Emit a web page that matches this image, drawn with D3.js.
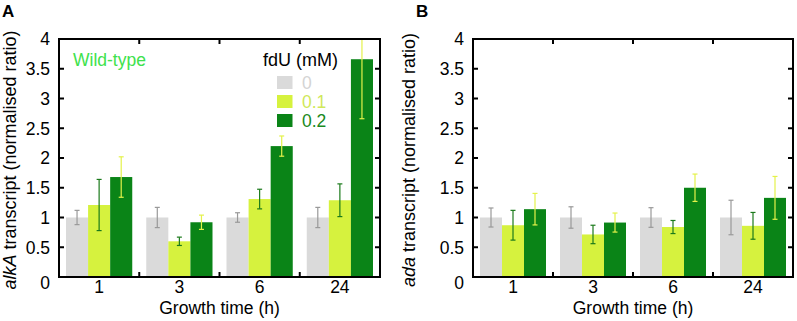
<!DOCTYPE html>
<html>
<head>
<meta charset="utf-8">
<script src="https://cdn.jsdelivr.net/npm/d3@7"></script>
<style>
  body { margin: 0; background: #fff; }
  svg { display: block; font-family: "Liberation Sans", Arial, sans-serif; }
</style>
</head>
<body>
<div id="plot"></div>
<script>
// growth time groups and fdU doses
const times = ['1', '3', '6', '24'];
const doses = ['0', '0.1', '0.2'];
const yTicks = [0, 0.5, 1, 1.5, 2, 2.5, 3, 3.5, 4];

// panel A: alkA
const alkA0 = [1.00, 1.00, 1.00, 1.00];
const alkA01 = [1.21, 0.60, 1.31, 1.29];
const alkA02 = [1.68, 0.92, 2.20, 3.66];
const alkA0Err = [0.12, 0.17, 0.08, 0.17];
const alkA01Err = [0.43, 0.07, 0.165, 0.275];
const alkA02Err = [0.34, 0.12, 0.17, 1.00];

// panel B: ada
const ada0 = [1.00, 1.00, 1.00, 1.00];
const ada01 = [0.87, 0.715, 0.84, 0.86];
const ada02 = [1.14, 0.915, 1.50, 1.33];
const ada0Err = [0.16, 0.18, 0.165, 0.29];
const ada01Err = [0.25, 0.155, 0.11, 0.225];
const ada02Err = [0.265, 0.16, 0.23, 0.36];

const barColor = {'0': '#dadada', '0.1': '#d6f23e', '0.2': '#0a8417'};
const errColor = {'0': '#999999', '0.1': '#1b7a1b', '0.2': '#e4f24a'};
const legendText = {'0': '#d4d4d4', '0.1': '#d0e85a', '0.2': '#1a8a22'};

const W = 797, H = 321;
const svg = d3.select('#plot').append('svg').attr('width', W).attr('height', H);

function drawPanel(p) {
    const g = svg.append('g');
    const y = d3.scaleLinear().domain([0, 4]).range([p.bottom, p.top]);
    const x = d3.scaleBand().domain(times).range([p.left, p.right]).padding(0);
    const xi = d3.scaleBand().domain(doses).range([7, x.bandwidth() - 7]).padding(0);

    const clipId = 'clip' + p.id;
    g.append('clipPath').attr('id', clipId)
        .append('rect')
        .attr('x', p.left).attr('y', p.top)
        .attr('width', p.right - p.left).attr('height', p.bottom - p.top);

    const rows = [];
    times.forEach((t, i) => {
        doses.forEach((d, j) => {
            rows.push({time: t, dose: d, v: p.means[j][i], e: p.errs[j][i]});
        });
    });

    const plot = g.append('g').attr('clip-path', `url(#${clipId})`);

    plot.selectAll('.bar')
        .data(rows)
        .enter()
        .append('rect')
        .attr('x', d => x(d.time) + xi(d.dose))
        .attr('width', xi.bandwidth())
        .attr('y', d => y(d.v))
        .attr('height', d => y(0) - y(d.v))
        .attr('fill', d => barColor[d.dose]);

    const eb = plot.selectAll('.err')
        .data(rows)
        .enter()
        .append('g')
        .attr('stroke', d => errColor[d.dose])
        .attr('stroke-width', 1.2);
    const cx = d => x(d.time) + xi(d.dose) + xi.bandwidth() / 2;
    eb.append('line')
        .attr('x1', cx).attr('x2', cx)
        .attr('y1', d => y(d.v - d.e)).attr('y2', d => y(d.v + d.e));
    eb.append('line')
        .attr('x1', d => cx(d) - 2.5).attr('x2', d => cx(d) + 2.5)
        .attr('y1', d => y(d.v - d.e)).attr('y2', d => y(d.v - d.e));
    eb.append('line')
        .attr('x1', d => cx(d) - 2.5).attr('x2', d => cx(d) + 2.5)
        .attr('y1', d => y(d.v + d.e)).attr('y2', d => y(d.v + d.e));

    // y ticks, inward on both sides
    const yt = g.append('g').attr('stroke', '#000').attr('stroke-width', 2);
    yt.selectAll('.tl')
        .data(yTicks.slice(1, -1))
        .enter()
        .append('line')
        .attr('x1', p.left).attr('x2', p.left + 5)
        .attr('y1', d => y(d)).attr('y2', d => y(d));
    yt.selectAll('.tr')
        .data(yTicks.slice(1, -1))
        .enter()
        .append('line')
        .attr('x1', p.right - 5).attr('x2', p.right)
        .attr('y1', d => y(d)).attr('y2', d => y(d));

    // group separators on top and bottom
    const seps = times.slice(1);
    yt.selectAll('.tb')
        .data(seps)
        .enter()
        .append('line')
        .attr('x1', d => x(d)).attr('x2', d => x(d))
        .attr('y1', p.bottom).attr('y2', p.bottom - 5);
    yt.selectAll('.tt')
        .data(seps)
        .enter()
        .append('line')
        .attr('x1', d => x(d)).attr('x2', d => x(d))
        .attr('y1', p.top).attr('y2', p.top + 5);

    g.append('rect')
        .attr('x', p.left).attr('y', p.top)
        .attr('width', p.right - p.left).attr('height', p.bottom - p.top)
        .attr('fill', 'none')
        .attr('stroke', '#000')
        .attr('stroke-width', 2);

    g.selectAll('.ylab')
        .data(yTicks)
        .enter()
        .append('text')
        .attr('x', p.left - 9)
        .attr('y', d => y(d))
        .attr('dy', d => d === 0 ? '0.7em' : '0.36em')
        .attr('text-anchor', 'end')
        .attr('font-size', '17.5px')
        .text(d => d);

    g.selectAll('.xlab')
        .data(times)
        .enter()
        .append('text')
        .attr('x', d => x(d) + x.bandwidth() / 2)
        .attr('y', p.bottom + 16)
        .attr('text-anchor', 'middle')
        .attr('font-size', '17.5px')
        .text(d => d);

    g.append('text')
        .attr('x', (p.left + p.right) / 2)
        .attr('y', p.bottom + 37)
        .attr('text-anchor', 'middle')
        .attr('font-size', '17.5px')
        .text('Growth time (h)');

    const yl = g.append('text')
        .attr('transform', `translate(${p.titleX},${(p.top + p.bottom) / 2 + 2}) rotate(-90)`)
        .attr('text-anchor', 'middle')
        .attr('font-size', '18px');
    yl.append('tspan').attr('font-style', 'italic').text(p.gene);
    yl.append('tspan').text(' transcript (normalised ratio)');

    g.append('text')
        .attr('x', p.letterX)
        .attr('y', 17)
        .attr('font-size', '17px')
        .attr('font-weight', 'bold')
        .text(p.letter);

    return {g, x, y};
}

const A = drawPanel({
    id: 'A', letter: 'A', letterX: 2, gene: 'alkA', titleX: 16,
    left: 59, right: 380, top: 39, bottom: 277,
    means: [alkA0, alkA01, alkA02], errs: [alkA0Err, alkA01Err, alkA02Err]
});
drawPanel({
    id: 'B', letter: 'B', letterX: 416, gene: 'ada', titleX: 415,
    left: 473, right: 793, top: 39, bottom: 277,
    means: [ada0, ada01, ada02], errs: [ada0Err, ada01Err, ada02Err]
});

// panel A annotations
A.g.append('text')
    .attr('x', 73).attr('y', 66)
    .attr('font-size', '17.5px')
    .attr('fill', '#3ee24c')
    .text('Wild-type');

const leg = A.g.append('g');
leg.append('text')
    .attr('x', 263).attr('y', 66)
    .attr('font-size', '18px')
    .text('fdU (mM)');
doses.forEach((d, i) => {
    leg.append('rect')
        .attr('x', 277).attr('y', 76 + i * 19)
        .attr('width', 15.5).attr('height', 13)
        .attr('fill', barColor[d]);
    leg.append('text')
        .attr('x', 302).attr('y', 82.5 + i * 19)
        .attr('dy', '0.36em')
        .attr('font-size', '17.5px')
        .attr('fill', legendText[d])
        .text(d);
});
</script>
</body>
</html>
